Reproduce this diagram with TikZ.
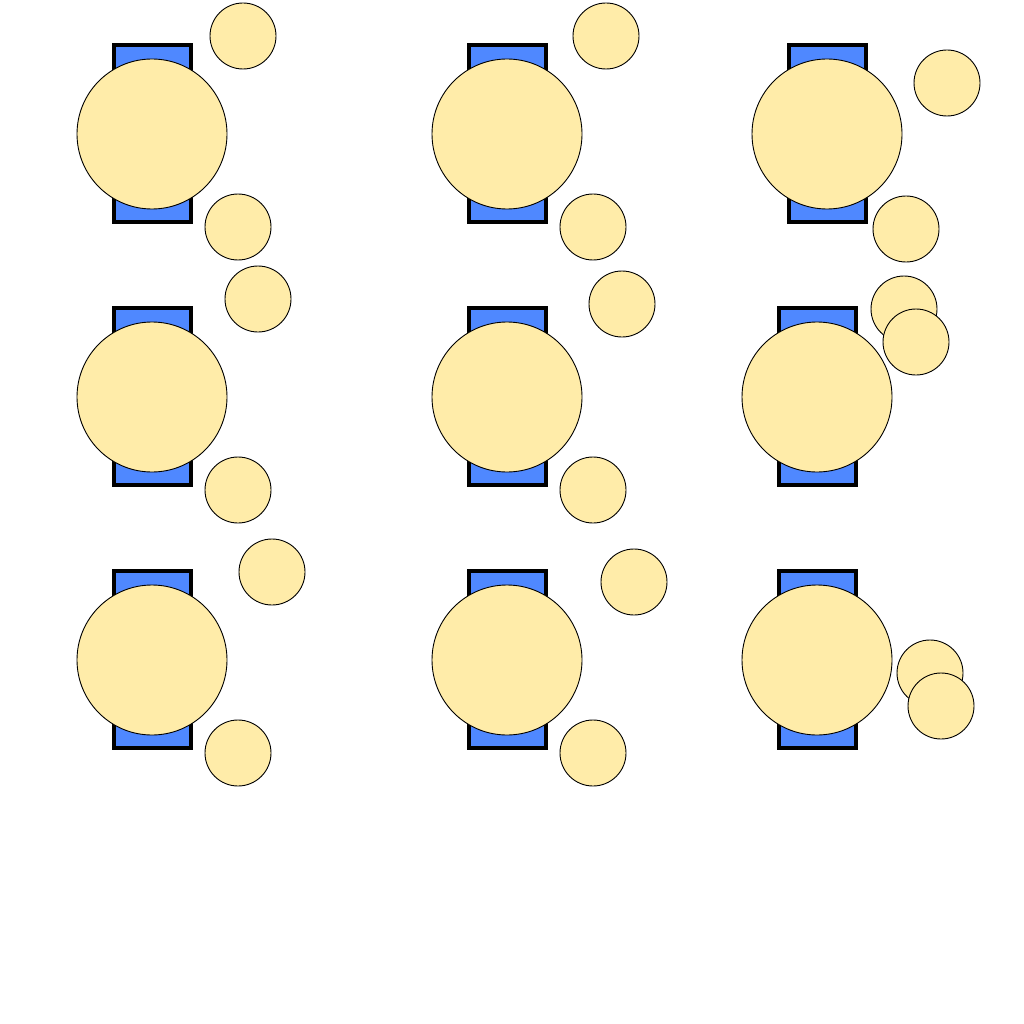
\documentclass[tikz,border=0pt]{standalone}
\begin{document}
\begin{tikzpicture}[x=1pt,y=-1pt,
  rectbox/.style={draw=black,line width=3.2pt,fill=blueA,minimum width=77pt,minimum height=177pt,inner sep=0pt,outer sep=0pt},
  bigc/.style={circle,draw=black,line width=0.9pt,fill=yel,minimum size=150pt,inner sep=0pt},
  smallc/.style={circle,draw=black,line width=0.9pt,fill=yel,minimum size=66pt,inner sep=0pt}]
\definecolor{blueA}{HTML}{4F88FF}
\definecolor{yel}{HTML}{FFECA9}
\useasboundingbox (0,0) rectangle (1024,1024);
% row 1
\node[rectbox] (r1) at (152.5,133.5) {};
\node[bigc] (b1) at (152,134) {};
\node[smallc] (s1a) at (243,36) {};
\node[smallc] (s1b) at (238,227) {};
\node[rectbox] (r2) at (507.5,133.5) {};
\node[bigc] (b2) at (507,134) {};
\node[smallc] (s2a) at (606,36) {};
\node[smallc] (s2b) at (593,227) {};
\node[rectbox] (r3) at (827.5,133.5) {};
\node[bigc] (b3) at (827,134) {};
\node[smallc] (s3a) at (947,83) {};
\node[smallc] (s3b) at (906,229) {};
% row 2
\node[rectbox] (r4) at (152.5,396.5) {};
\node[bigc] (b4) at (152,397) {};
\node[smallc] (s4a) at (258,299) {};
\node[smallc] (s4b) at (238,490) {};
\node[rectbox] (r5) at (507.5,396.5) {};
\node[bigc] (b5) at (507,397) {};
\node[smallc] (s5a) at (622,304) {};
\node[smallc] (s5b) at (593,490) {};
\node[rectbox] (r6) at (817.5,396.5) {};
\node[bigc] (b6) at (817,397) {};
\node[smallc] (s6a) at (904,309) {};
\node[smallc] (s6b) at (916,342) {};
% row 3
\node[rectbox] (r7) at (152.5,659.5) {};
\node[bigc] (b7) at (152,660) {};
\node[smallc] (s7a) at (272,572) {};
\node[smallc] (s7b) at (238,753) {};
\node[rectbox] (r8) at (507.5,659.5) {};
\node[bigc] (b8) at (507,660) {};
\node[smallc] (s8a) at (634,582) {};
\node[smallc] (s8b) at (593,753) {};
\node[rectbox] (r9) at (817.5,659.5) {};
\node[bigc] (b9) at (817,660) {};
\node[smallc] (s9a) at (930,673) {};
\node[smallc] (s9b) at (941,706) {};
\end{tikzpicture}
\end{document}
